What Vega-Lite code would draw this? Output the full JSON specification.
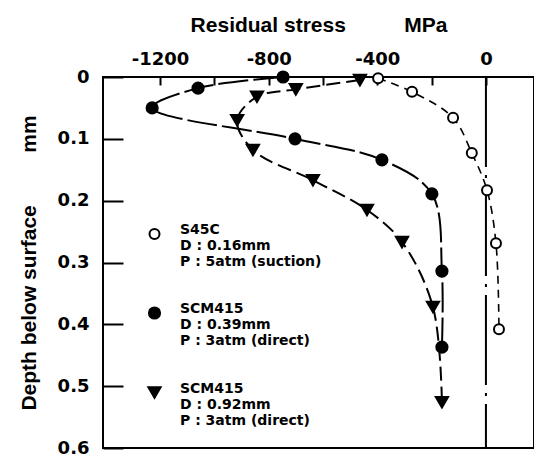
{
  "$schema": "https://vega.github.io/schema/vega-lite/v6.json",
  "width": 431,
  "height": 371,
  "autosize": {"type": "none"},
  "padding": {"left": 103, "top": 77, "right": 0, "bottom": 17},
  "background": "white",
  "config": {
    "view": {"stroke": "black", "strokeWidth": 2},
    "font": "Liberation Sans"
  },
  "datasets": {
    "pts": [
      {"series": "S45C", "stress": -397, "depth": 0.002},
      {"series": "S45C", "stress": -272, "depth": 0.024},
      {"series": "S45C", "stress": -121, "depth": 0.066},
      {"series": "S45C", "stress": -52, "depth": 0.123},
      {"series": "S45C", "stress": 4, "depth": 0.183},
      {"series": "S45C", "stress": 37, "depth": 0.269},
      {"series": "S45C", "stress": 48, "depth": 0.408},
      {"series": "SCM415 D0.39", "stress": -747, "depth": 0.0},
      {"series": "SCM415 D0.39", "stress": -1060, "depth": 0.018},
      {"series": "SCM415 D0.39", "stress": -1229, "depth": 0.05},
      {"series": "SCM415 D0.39", "stress": -703, "depth": 0.1},
      {"series": "SCM415 D0.39", "stress": -383, "depth": 0.134},
      {"series": "SCM415 D0.39", "stress": -199, "depth": 0.189},
      {"series": "SCM415 D0.39", "stress": -162, "depth": 0.314},
      {"series": "SCM415 D0.39", "stress": -162, "depth": 0.437},
      {"series": "SCM415 D0.92", "stress": -464, "depth": 0.005},
      {"series": "SCM415 D0.92", "stress": -700, "depth": 0.02},
      {"series": "SCM415 D0.92", "stress": -843, "depth": 0.032},
      {"series": "SCM415 D0.92", "stress": -916, "depth": 0.07},
      {"series": "SCM415 D0.92", "stress": -858, "depth": 0.118},
      {"series": "SCM415 D0.92", "stress": -637, "depth": 0.167},
      {"series": "SCM415 D0.92", "stress": -438, "depth": 0.215},
      {"series": "SCM415 D0.92", "stress": -309, "depth": 0.267},
      {"series": "SCM415 D0.92", "stress": -195, "depth": 0.372},
      {"series": "SCM415 D0.92", "stress": -162, "depth": 0.526}
    ]
  },
  "encoding": {
    "x": {
      "field": "stress", "type": "quantitative",
      "scale": {"domain": [-1410, 177], "nice": false, "zero": false},
      "axis": {
        "orient": "top",
        "offset": -8,
        "title": "Residual stress\u00a0\u00a0\u00a0\u00a0\u00a0\u00a0\u00a0\u00a0\u00a0\u00a0MPa",
        "titleFont": "Liberation Sans", "titleFontSize": 21, "titleFontWeight": "bold",
        "titleColor": "black", "titlePadding": 15,
        "values": [-1200, -1000, -800, -600, -400, -200, 0],
        "format": "d",
        "labelExpr": "datum.value % 400 == 0 ? replace(datum.label, '−', '-') : ''",
        "labelFont": "DejaVu Sans", "labelFontSize": 18, "labelFontWeight": "bold",
        "labelColor": "black",
        "ticks": true, "tickSize": 8, "tickWidth": 2, "tickColor": "black",
        "labelPadding": 9,
        "domain": false, "grid": false
      }
    },
    "y": {
      "field": "depth", "type": "quantitative",
      "scale": {"domain": [0, 0.6], "reverse": true, "nice": false},
      "axis": {
        "offset": -20,
        "title": "Depth below surface\u00a0\u00a0\u00a0\u00a0\u00a0\u00a0\u00a0\u00a0\u00a0mm",
        "titleFont": "Liberation Sans", "titleFontSize": 21, "titleFontWeight": "bold",
        "titleColor": "black", "titlePadding": 18,
        "values": [0, 0.1, 0.2, 0.3, 0.4, 0.5, 0.6],
        "format": "~g",
        "labelFont": "DejaVu Sans", "labelFontSize": 18, "labelFontWeight": "bold",
        "labelColor": "black",
        "ticks": true, "tickSize": 20, "tickWidth": 2, "tickColor": "black",
        "labelPadding": 14,
        "domain": false, "grid": false
      }
    }
  },
  "layer": [
    {
      "data": {"values": [{"stress": 0}]},
      "mark": {"type": "rule", "color": "black", "strokeWidth": 2, "strokeDash": [90, 8, 3, 8]},
      "encoding": {"y": null}
    },
    {
      "data": {"name": "pts"},
      "transform": [{"filter": {"field": "series", "equal": "S45C"}}],
      "mark": {"type": "line", "color": "black", "strokeWidth": 1.6, "interpolate": "catmull-rom", "strokeDash": [8, 6]},
      "encoding": {"order": {"field": "depth", "type": "quantitative"}}
    },
    {
      "data": {"name": "pts"},
      "transform": [{"filter": {"field": "series", "equal": "SCM415 D0.39"}}],
      "mark": {"type": "line", "color": "black", "strokeWidth": 2, "interpolate": "catmull-rom", "strokeDash": [30, 5]},
      "encoding": {"order": {"field": "depth", "type": "quantitative"}}
    },
    {
      "data": {"name": "pts"},
      "transform": [{"filter": {"field": "series", "equal": "SCM415 D0.92"}}],
      "mark": {"type": "line", "color": "black", "strokeWidth": 2, "interpolate": "catmull-rom", "strokeDash": [14, 6]},
      "encoding": {"order": {"field": "depth", "type": "quantitative"}}
    },
    {
      "data": {"name": "pts"},
      "mark": {"type": "point", "filled": true, "stroke": "black", "strokeWidth": 2, "opacity": 1},
      "encoding": {
        "shape": {
          "field": "series", "type": "nominal",
          "scale": {"domain": ["S45C", "SCM415 D0.39", "SCM415 D0.92"], "range": ["circle", "circle", "triangle-down"]},
          "legend": {
            "title": null,
            "orient": "none", "legendX": 44, "legendY": 150,
            "labelExpr": "datum.label == 'S45C' ? ['S45C', 'D : 0.16mm', 'P : 5atm (suction)'] : datum.label == 'SCM415 D0.39' ? ['SCM415', 'D : 0.39mm', 'P : 3atm (direct)'] : ['SCM415', 'D : 0.92mm', 'P : 3atm (direct)']",
            "labelFont": "DejaVu Sans", "labelFontSize": 14, "labelFontWeight": "bold",
            "labelColor": "black", "labelBaseline": "alphabetic",
            "labelOffset": 18, "labelLimit": 300,
            "symbolStrokeColor": "black", "symbolStrokeWidth": 2,
            "rowPadding": 33, "padding": 0
          }
        },
        "fill": {
          "field": "series", "type": "nominal",
          "scale": {"domain": ["S45C", "SCM415 D0.39", "SCM415 D0.92"], "range": ["white", "black", "black"]}
        },
        "size": {
          "field": "series", "type": "nominal",
          "scale": {"domain": ["S45C", "SCM415 D0.39", "SCM415 D0.92"], "range": [100, 150, 380]}
        }
      }
    }
  ]
}
